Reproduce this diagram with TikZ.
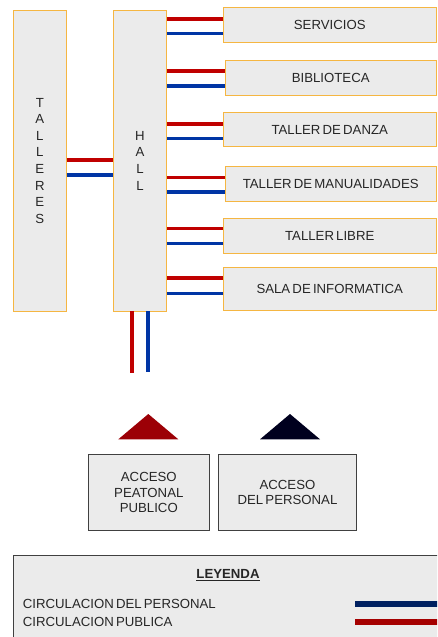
\documentclass[tikz,border=0pt]{standalone}
\usepackage{fontspec}
\setmainfont{Liberation Sans}[WordSpace=0.6]
\usetikzlibrary{positioning}
\definecolor{boxfill}{HTML}{EBEBEB}
\definecolor{boxedge}{HTML}{F5B642}
\definecolor{pubred}{HTML}{C00000}
\definecolor{perblue}{HTML}{0035A5}
\definecolor{tripred}{HTML}{9C0006}
\definecolor{trinavy}{HTML}{00001E}
\definecolor{legnavy}{HTML}{002060}
\definecolor{legred}{HTML}{A50000}
\definecolor{accedge}{HTML}{404040}
\definecolor{ink}{HTML}{262626}

\begin{document}
\begin{tikzpicture}[x=1pt,y=-1pt,
  font=\fontsize{13.2}{16.6}\selectfont,
  col/.style={draw=boxedge,fill=boxfill,line width=0.9pt,minimum width=53.5pt,minimum height=300.7pt,inner sep=0pt,outer sep=0pt,align=center,text=ink},
  room/.style={draw=boxedge,fill=boxfill,line width=0.9pt,anchor=west,inner sep=0pt,outer sep=0pt,text=ink},
  acc/.style={draw=accedge,fill=boxfill,line width=1pt,minimum height=76.4pt,inner sep=0pt,outer sep=0pt,align=center,font=\fontsize{13.2}{15.8}\selectfont,text=ink},
  pub/.style={draw=pubred,line width=3.6pt},
  per/.style={draw=perblue,line width=3.6pt},
  lab/.style={anchor=west,inner sep=0pt,text=ink}]
\clip (0,0) rectangle (437,637);
% columns
\node[col] (tall) at (39.8,160.7) {T\\A\\L\\L\\E\\R\\E\\S};
\node[col] (hall) at (140,160.7) {H\\A\\L\\L};
% rooms
\node[room,minimum width=213.5pt,minimum height=34.6pt] (s1) at (223,25) {SERVICIOS};
\node[room,minimum width=211.5pt,minimum height=35pt] (s2) at (225,78.2) {BIBLIOTECA};
\node[room,minimum width=213.5pt,minimum height=34pt] (s3) at (223,129.7) {TALLER DE DANZA};
\node[room,minimum width=211.5pt,minimum height=35pt] (s4) at (225,184.2) {TALLER DE MANUALIDADES};
\node[room,minimum width=213.5pt,minimum height=35pt] (s5) at (223,235.8) {TALLER LIBRE};
\node[room,minimum width=213.5pt,minimum height=43pt] (s6) at (223,289.2) {SALA DE INFORMATICA};
% circulations
\draw[pub] (tall.east |- 0,160) -- (hall.west |- 0,160);
\draw[per] (tall.east |- 0,175) -- (hall.west |- 0,175);
\draw[pub] (hall.east |- 0,19) -- (s1.west |- 0,19);
\draw[per] (hall.east |- 0,33.3) -- (s1.west |- 0,33.3);
\draw[pub] (hall.east |- 0,70.7) -- (s2.west |- 0,70.7);
\draw[per] (hall.east |- 0,85.7) -- (s2.west |- 0,85.7);
\draw[pub] (hall.east |- 0,124) -- (s3.west |- 0,124);
\draw[per] (hall.east |- 0,138.3) -- (s3.west |- 0,138.3);
\draw[pub] (hall.east |- 0,177.3) -- (s4.west |- 0,177.3);
\draw[per] (hall.east |- 0,191.7) -- (s4.west |- 0,191.7);
\draw[pub] (hall.east |- 0,228.3) -- (s5.west |- 0,228.3);
\draw[per] (hall.east |- 0,243.3) -- (s5.west |- 0,243.3);
\draw[pub] (hall.east |- 0,277.7) -- (s6.west |- 0,277.7);
\draw[per] (hall.east |- 0,293.3) -- (s6.west |- 0,293.3);
\coordinate (pend) at (131.7,373);
\coordinate (rend) at (147.7,372);
\draw[pub] (hall.south -| pend) -- (pend);
\draw[per] (hall.south -| rend) -- (rend);
% accesses
\fill[tripred] (118.3,439.3) -- (148.3,414) -- (178.3,439.3) -- cycle;
\fill[trinavy] (260,439.3) -- (290,414) -- (320,439.3) -- cycle;
\node[acc,minimum width=121pt] (acc1) at (148.8,492.5) {ACCESO\\PEATONAL\\PUBLICO};
\node[acc,minimum width=138.4pt] (acc2) at (287.5,492.5) {ACCESO\\DEL PERSONAL};
% legend
\draw[draw=accedge,fill=boxfill,line width=1pt] (13,555.7) rectangle (450,650);
\node[text=ink,font=\fontsize{13.2}{16}\selectfont\bfseries] (ley) at (228,575) {\underline{LEYENDA}};
\node[lab] (l1) at (22.7,604.3) {CIRCULACION DEL PERSONAL};
\node[lab] (l2) at (22.7,622) {CIRCULACION PUBLICA};
\draw[legnavy,line width=6pt] (l1.east -| 355,0) -- (l1.east -| 445,0);
\draw[legred,line width=6pt] (l2.east -| 355,0) -- (l2.east -| 445,0);
\end{tikzpicture}
\end{document}
